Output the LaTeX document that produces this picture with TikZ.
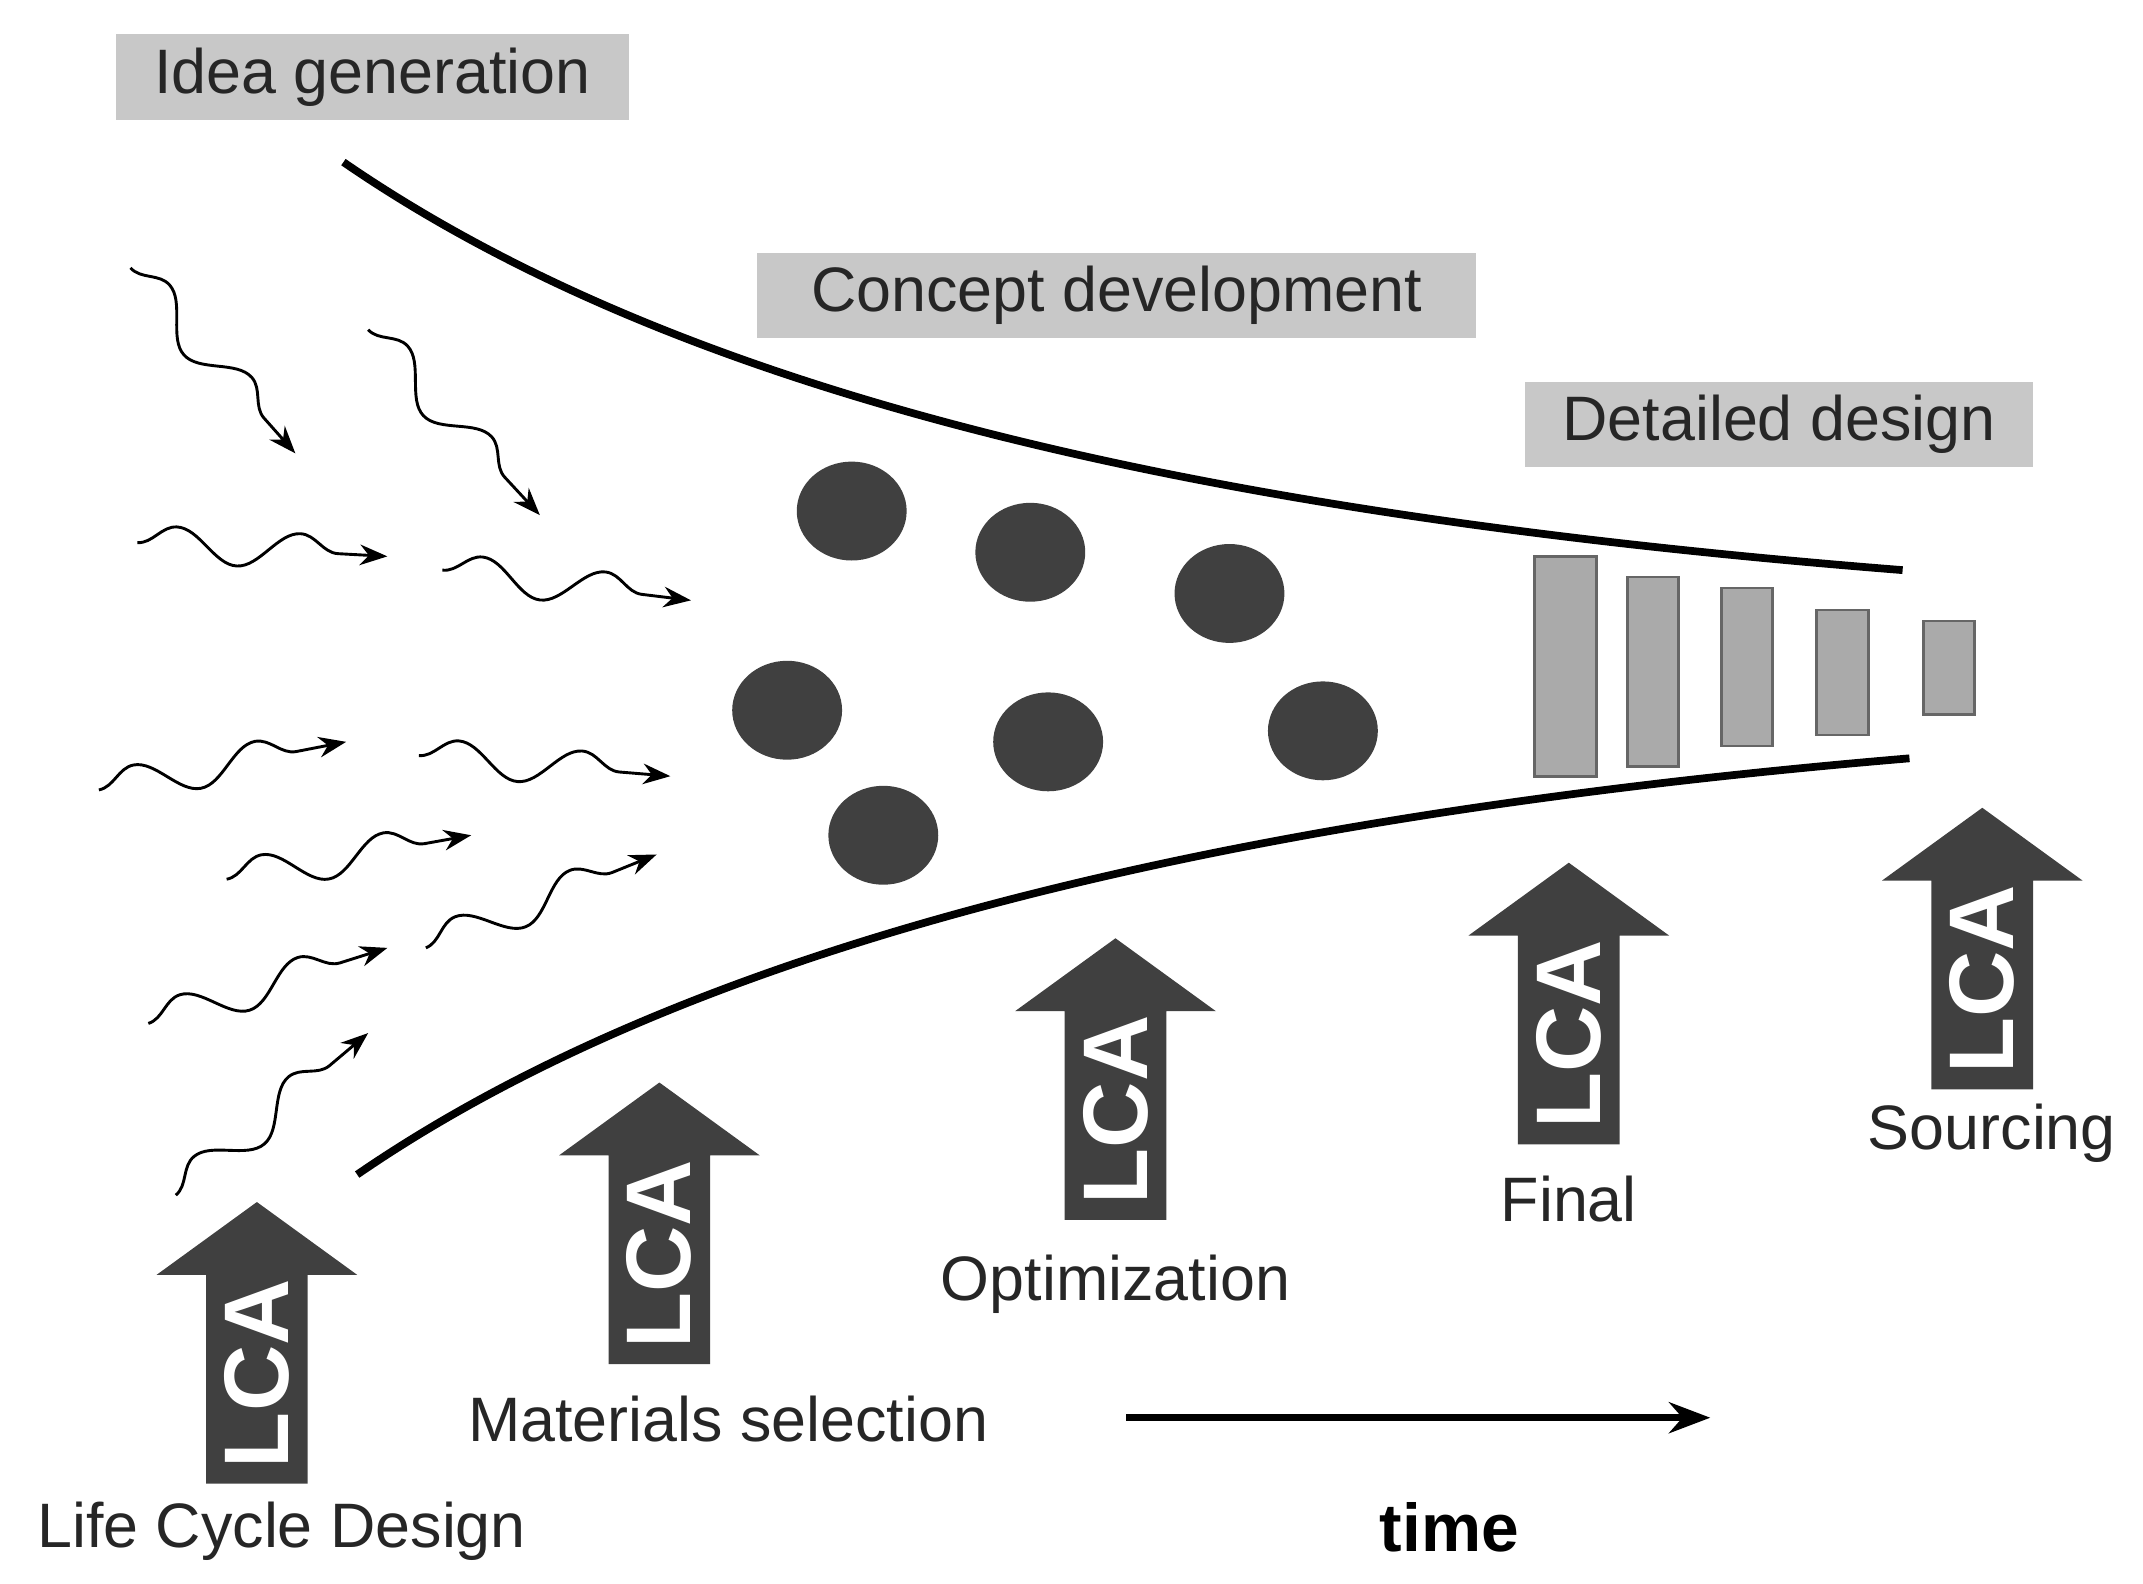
\documentclass[tikz,border=0pt]{standalone}
\usepackage{fontspec}
\setmainfont{Liberation Sans}
\usetikzlibrary{decorations.pathmorphing,arrows.meta}
\definecolor{dk}{HTML}{404040}
\definecolor{lb}{HTML}{C8C8C8}
\definecolor{bar}{HTML}{AAAAAA}
\begin{document}
\begin{tikzpicture}[x=0.01cm,y=-0.01cm,
 lab/.style={font=\fontsize{13}{15}\selectfont, text=black!85},
 stage/.style={lab, fill=lb, inner sep=2pt, minimum height=0.62cm},
 lcatext/.style={rotate=90, text=white, font=\fontsize{19}{22}\bfseries\selectfont},
 wig/.style={decorate, decoration={snake, amplitude=1.3mm, segment length=9mm, post length=2mm}, -{Stealth[length=2mm]}, line width=0.6pt},
 ]
\useasboundingbox (0,0) rectangle (1560,1153);
% stage labels
\node[stage, minimum width=3.73cm] (idea) at (271,56) {Idea generation};
\node[stage, minimum width=5.23cm] (concept) at (813,215) {Concept development};
\node[stage, minimum width=3.7cm] (detail) at (1295,309) {Detailed design};
% funnel curves
\draw[line width=1.6pt] (250,118) .. controls (500,290) and (880,375) .. (1385,415);
\draw[line width=1.6pt] (260,855) .. controls (500,690) and (880,595) .. (1390,552);
% wiggly arrows
\coordinate (w1a) at (95,195);  \coordinate (w1b) at (215,330);
\coordinate (w2a) at (268,240); \coordinate (w2b) at (393,375);
\coordinate (w3a) at (100,395); \coordinate (w3b) at (282,405);
\coordinate (w4a) at (322,415); \coordinate (w4b) at (503,437);
\coordinate (w5a) at (72,575);  \coordinate (w5b) at (252,540);
\coordinate (w6a) at (305,550); \coordinate (w6b) at (488,565);
\coordinate (w7a) at (165,640); \coordinate (w7b) at (343,608);
\coordinate (w8a) at (310,690); \coordinate (w8b) at (478,622);
\coordinate (w9a) at (108,745); \coordinate (w9b) at (282,690);
\coordinate (w10a) at (128,870); \coordinate (w10b) at (268,752);
\foreach \i in {1,...,10} \draw[wig] (w\i a) -- (w\i b);
% dots
\foreach \n/\x/\y in {d1/620/372,d2/750/402,d3/895/432,d4/573/517,d5/763/540,d6/963/532,d7/643/608}
  \fill[dk] (\x,\y) ellipse [x radius=40, y radius=36];
% bars
\draw[fill=bar, draw=dk!80, line width=0.6pt] (1117,405) rectangle (1162,565);
\draw[fill=bar, draw=dk!80, line width=0.6pt] (1185,420) rectangle (1222,558);
\draw[fill=bar, draw=dk!80, line width=0.6pt] (1253,428) rectangle (1290,543);
\draw[fill=bar, draw=dk!80, line width=0.6pt] (1322,444) rectangle (1360,535);
\draw[fill=bar, draw=dk!80, line width=0.6pt] (1400,452) rectangle (1437,520);
% LCA arrows
\foreach \n/\x/\t in {1/187/875,2/480/788,3/812/683,4/1142/628,5/1443/588}{
  \fill[dk] (\x-37,\t+205) -- (\x+37,\t+205) -- (\x+37,\t+53) -- (\x+73,\t+53) -- (\x,\t) -- (\x-73,\t+53) -- (\x-37,\t+53) -- cycle;
  \node[lcatext] (lca\n) at (\x,\t+125) {LCA};
}
% labels
\node[lab] (l1) at (205,1115) {Life Cycle Design};
\node[lab] (l2) at (530,1033) {Materials selection};
\node[lab] (l3) at (812,935) {Optimization};
\node[lab] (l4) at (1142,873) {Final};
\node[lab] (l5) at (1450,825) {Sourcing};
% time
\coordinate (t0) at (820,1032); \coordinate (t1) at (1245,1032);
\draw[line width=1.4pt, -{Stealth[length=3mm]}] (t0) -- (t1);
\node[font=\fontsize{14}{16}\bfseries\selectfont] (time) at (1055,1112) {time};
\end{tikzpicture}
\end{document}
